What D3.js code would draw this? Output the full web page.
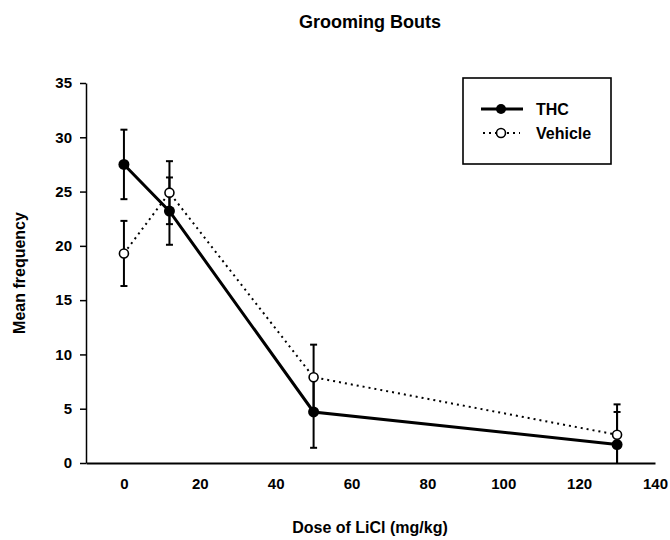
<!DOCTYPE html>
<html><head><meta charset="utf-8">
<script src="https://cdn.jsdelivr.net/npm/d3@7"></script>
<style>
html,body{margin:0;padding:0;background:#fff;}
text{font-family:"Liberation Sans",Arial,sans-serif;font-weight:bold;fill:#000;}
</style></head>
<body>
<svg id="chart" width="670" height="540"></svg>
<script>
const doses = [0, 12, 50, 130];
const thcMean = [27.5, 23.2, 4.7, 1.7];
const thcErr = [3.2, 3.1, 3.3, 3.0];
const vehicleMean = [19.3, 24.9, 7.9, 2.6];
const vehicleErr = [3.0, 2.9, 3.0, 2.8];
const xTicks = [0, 20, 40, 60, 80, 100, 120, 140];
const yTicks = [0, 5, 10, 15, 20, 25, 30, 35];
const seriesNames = ["THC", "Vehicle"];

const svg = d3.select("#chart");
const x = d3.scaleLinear().domain([-10, 140]).range([86, 655]);
const y = d3.scaleLinear().domain([0, 35]).range([463, 83]);

// title
svg.append("text").attr("x", 370).attr("y", 28).attr("text-anchor", "middle")
  .style("font-size", "18px").text("Grooming Bouts");

// axes
const yAxis = svg.append("g").attr("transform", "translate(86,0)")
  .call(d3.axisLeft(y).tickValues(yTicks).tickSize(6).tickPadding(8).tickSizeOuter(0));
yAxis.selectAll("text").style("font-size", "15px");
yAxis.selectAll("path,line").attr("stroke", "#000").attr("stroke-width", 1.5);

const xAxis = svg.append("g").attr("transform", "translate(0,463)")
  .call(d3.axisBottom(x).tickValues(xTicks).tickSize(0).tickPadding(15).tickSizeOuter(0));
xAxis.selectAll("text").style("font-size", "15px");
xAxis.select("path").attr("stroke", "#000").attr("stroke-width", 2);

svg.append("text").attr("transform", "translate(25,273) rotate(-90)")
  .attr("text-anchor", "middle").style("font-size", "16px").text("Mean frequency");
svg.append("text").attr("x", 370).attr("y", 533).attr("text-anchor", "middle")
  .style("font-size", "16px").text("Dose of LiCl (mg/kg)");

const thc = doses.map((d, i) => ({x: d, m: thcMean[i], e: thcErr[i]}));
const veh = doses.map((d, i) => ({x: d, m: vehicleMean[i], e: vehicleErr[i]}));

function errorBars(data) {
  const g = svg.append("g").attr("stroke", "#000").attr("stroke-width", 2);
  data.forEach(p => {
    const lo = Math.max(0, p.m - p.e), hi = p.m + p.e;
    g.append("line").attr("x1", x(p.x)).attr("x2", x(p.x)).attr("y1", y(lo)).attr("y2", y(hi));
    g.append("line").attr("x1", x(p.x) - 3.5).attr("x2", x(p.x) + 3.5).attr("y1", y(hi)).attr("y2", y(hi));
    if (p.m - p.e > 0)
      g.append("line").attr("x1", x(p.x) - 3.5).attr("x2", x(p.x) + 3.5).attr("y1", y(lo)).attr("y2", y(lo));
  });
}
errorBars(veh);
errorBars(thc);

const line = d3.line().x(d => x(d.x)).y(d => y(d.m));
svg.append("path").datum(veh).attr("d", line).attr("fill", "none")
  .attr("stroke", "#000").attr("stroke-width", 2).attr("stroke-dasharray", "2,4");
svg.append("path").datum(thc).attr("d", line).attr("fill", "none")
  .attr("stroke", "#000").attr("stroke-width", 3);

svg.append("g").selectAll("circle").data(veh).join("circle")
  .attr("cx", d => x(d.x)).attr("cy", d => y(d.m)).attr("r", 4.5)
  .attr("fill", "#fff").attr("stroke", "#000").attr("stroke-width", 1.6);
svg.append("g").selectAll("circle").data(thc).join("circle")
  .attr("cx", d => x(d.x)).attr("cy", d => y(d.m)).attr("r", 5.5)
  .attr("fill", "#000");

// legend
const lg = svg.append("g");
lg.append("rect").attr("x", 463).attr("y", 78).attr("width", 148).attr("height", 86)
  .attr("fill", "#fff").attr("stroke", "#000").attr("stroke-width", 1.6);
const rows = [109, 133];
lg.append("line").attr("x1", 481).attr("x2", 523).attr("y1", rows[0]).attr("y2", rows[0])
  .attr("stroke", "#000").attr("stroke-width", 3);
lg.append("circle").attr("cx", 501).attr("cy", rows[0]).attr("r", 5).attr("fill", "#000");
lg.append("line").attr("x1", 483).attr("x2", 520).attr("y1", rows[1]).attr("y2", rows[1])
  .attr("stroke", "#000").attr("stroke-width", 2).attr("stroke-dasharray", "2,4");
lg.append("circle").attr("cx", 501).attr("cy", rows[1]).attr("r", 4.5)
  .attr("fill", "#fff").attr("stroke", "#000").attr("stroke-width", 1.6);
seriesNames.forEach((n, i) => {
  lg.append("text").attr("x", 536).attr("y", rows[i]).attr("dy", "0.36em")
    .style("font-size", "16px").text(n);
});
</script>
</body></html>
